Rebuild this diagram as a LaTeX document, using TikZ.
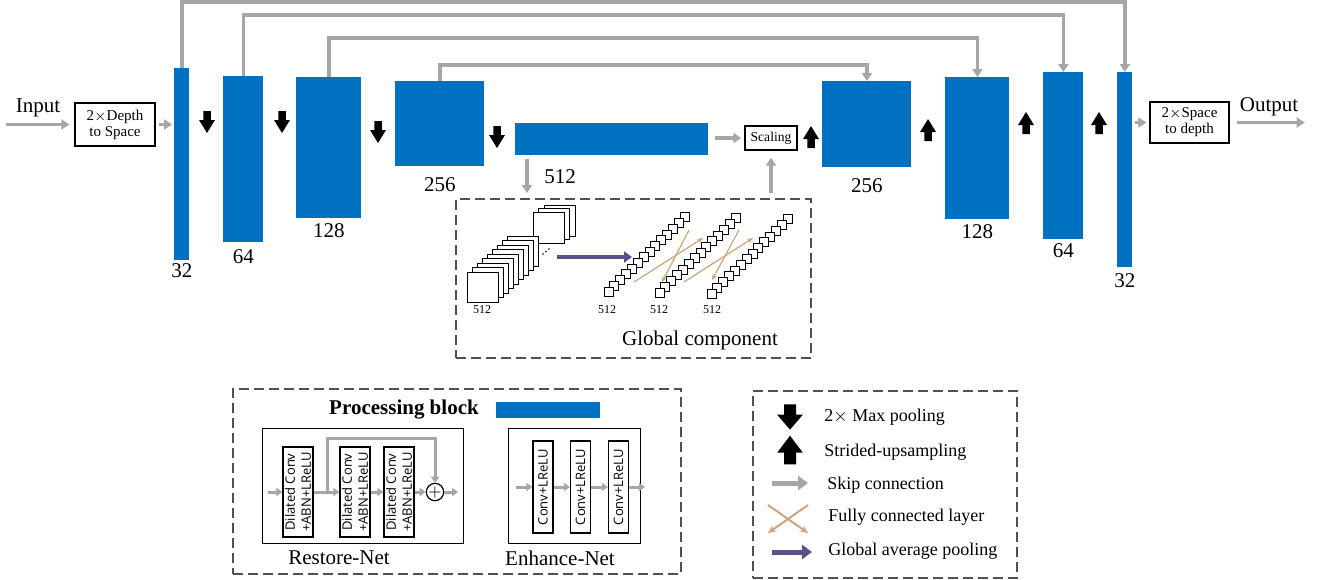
\documentclass[tikz,border=0pt]{standalone}
\usepackage{fontspec}
\setmainfont{Liberation Serif}
\setsansfont{Open Sans}
\usetikzlibrary{arrows.meta, positioning, calc}
\definecolor{blockblue}{RGB}{0,112,192}
\definecolor{skipgray}{RGB}{166,166,166}
\definecolor{fctan}{RGB}{205,165,125}
\definecolor{gapurple}{RGB}{96,78,140}
\definecolor{dashgray}{RGB}{80,80,80}

\begin{document}
\begin{tikzpicture}[x=0.5pt, y=-0.5pt,
    blk/.style 2 args={fill=blockblue, inner sep=0pt, minimum width=#1*0.5pt, minimum height=#2*0.5pt, anchor=north west},
    num/.style={font=\fontsize{10.5}{12}\selectfont, inner sep=0pt},
    tbox/.style={draw, line width=0.7pt, inner sep=0pt, align=center, font=\fontsize{7.5}{8}\selectfont},
    skip/.style={draw=skipgray, line width=1.8pt, -{Triangle[length=4pt, width=5pt]}},
    parr/.style={draw=skipgray, line width=1.5pt, -{Triangle[length=3pt, width=4pt]}},
    fc/.style={draw=fctan, line width=0.6pt, -{Stealth[length=3pt, width=2.5pt]}},
    gap/.style={draw=gapurple, line width=2pt, -{Triangle[length=4pt, width=5.5pt]}},
    dbox/.style={draw=dashgray, line width=0.75pt, dash pattern=on 5pt off 2.5pt, inner sep=0pt, anchor=north west},
    sq/.style={draw, fill=white, line width=0.5pt},
    pooldown/.pic={\fill (-3.75,-11) -- (3.75,-11) -- (3.75,-2) -- (8,-2) -- (0,11) -- (-8,-2) -- (-3.75,-2) -- cycle;},
    poolup/.pic={\fill (-3.75,11) -- (3.75,11) -- (3.75,2) -- (8,2) -- (0,-11) -- (-8,2) -- (-3.75,2) -- cycle;},
    layer/.style={draw, line width=0.6pt, rotate=90, align=center, inner sep=0pt, font=\sffamily\fontsize{6.5}{8}\selectfont},
    legtxt/.style={anchor=west, font=\fontsize{9}{10}\selectfont, inner sep=0pt}]
  \useasboundingbox (0,0) rectangle (1320,579);

  % Encoder
  \node[blk={15}{192}] (b32l) at (174,68) {};
  \node[blk={40}{166}] (b64l) at (223,76) {};
  \node[blk={65}{141}] (b128l) at (296,77) {};
  \node[blk={89}{85}] (b256l) at (395,81) {};
  \node[blk={193}{32}] (b512) at (515,123) {};
  % Decoder
  \node[blk={89}{86}] (b256r) at (822,81) {};
  \node[blk={64}{142}] (b128r) at (945,77) {};
  \node[blk={40}{167}] (b64r) at (1043,72) {};
  \node[blk={15}{195}] (b32r) at (1117,72) {};

  % Channel numbers
  \node[num, below=1pt of b32l] (n32l) {32};
  \node[num, below=3pt of b64l] (n64l) {64};
  \node[num, below=2pt of b128l] (n128l) {128};
  \node[num, below=5pt of b256l] (n256l) {256};
  \node[num, anchor=north] (n512) at ($(b512.south west)+(45,13)$) {512};
  \node[num, below=5pt of b256r] (n256r) {256};
  \node[num, below=2pt of b128r] (n128r) {128};
  \node[num, below=1.5pt of b64r] (n64r) {64};
  \node[num, below=2.5pt of b32r] (n32r) {32};

  % Input and output
  \node[tbox, minimum width=40pt, minimum height=21.5pt] (d2s) at (115,124.5) {2$\times$Depth\\to Space};
  \node[tbox, minimum width=39.5pt, minimum height=20.5pt] (s2d) at (1189.5,122.5) {2$\times$Space\\to depth};
  \node[tbox, minimum width=26pt, minimum height=12pt, font=\fontsize{6.8}{8}\selectfont] (scl) at (771,138) {Scaling};
  \node[num] (inlbl) at (38,108) {Input};
  \node[num] (outlbl) at (1269,107) {Output};
  \coordinate (inS) at ($(d2s.west)+(-68,0)$);
  \coordinate (outE) at ($(s2d.east)+(75,0)$);
  \draw[skip, shorten >=2.5pt] (inS) -- (d2s.west);
  \draw[skip, shorten <=1.5pt, shorten >=1pt] (d2s.east) -- (d2s.east -| b32l.west);
  \draw[skip, shorten <=1pt, shorten >=1.5pt] (b32r.east |- s2d.west) -- (s2d.west);
  \draw[skip, shorten <=3.5pt] (s2d.east) -- (outE);
  \draw[skip, shorten <=3pt, shorten >=1.5pt] (b512.east |- scl.west) -- (scl.west);

  % Pooling and upsampling arrows
  \pic (p1) at (207,122) {pooldown};
  \pic (p2) at (282,122) {pooldown};
  \pic (p3) at (378,132) {pooldown};
  \pic (p4) at (497,137) {pooldown};
  \pic (u1) at (811,137) {poolup};
  \pic (u2) at (928,130) {poolup};
  \pic (u3) at (1026,123) {poolup};
  \pic (u4) at (1099,123) {poolup};

  % Skip connections
  \draw[skip] (b32l.north) -- ++(0,-66) -| (b32r.north);
  \draw[skip] (b64l.north) -- ++(0,-61) -| (b64r.north);
  \draw[skip] (b128l.north) -- ++(0,-39) -| (b128r.north);
  \draw[skip] (b256l.north) -- ++(0,-16) -| (b256r.north);

  % Global component
  \node[dbox, minimum width=355*0.5pt, minimum height=159*0.5pt] (glob) at (455,198) {};
  \draw[skip, shorten <=1.5pt, shorten >=2.5pt] ([xshift=6pt]b512.south west) -- ([xshift=6pt]b512.south west |- glob.north);
  \draw[skip, shorten <=2.5pt, shorten >=3.5pt] (scl.south |- glob.north) -- (scl.south);
  \foreach \k in {2,1,0}
    \draw[sq] (533+5.5*\k, 212-3.5*\k) rectangle ++(31,31);
  \foreach \k in {8,...,0}
    \draw[sq] (467+5*\k, 272-4.5*\k) rectangle ++(31,30);
  \foreach \k in {0,1,2}
    \fill (543+3*\k, 254-2.5*\k) circle (0.9);
  \node[num, font=\fontsize{6}{7}\selectfont] (g512a) at (482,310) {512};
  \draw[gap] (557,257) -- (632,257);
  \foreach \cx/\cy in {604/287, 655/288, 707/289}
    \foreach \k in {13,...,0}
      \draw[sq, line width=0.45pt] (\cx+5.85*\k, \cy-5.7*\k) rectangle ++(9,9);
  \draw[fc] (634,282) -- (703,238);
  \draw[fc] (689,230) -- (662,282);
  \draw[fc] (684,282) -- (753,238);
  \draw[fc] (739,230) -- (712,280);
  \node[num, font=\fontsize{6}{7}\selectfont] (g512b) at (607,310) {512};
  \node[num, font=\fontsize{6}{7}\selectfont] (g512c) at (659,310) {512};
  \node[num, font=\fontsize{6}{7}\selectfont] (g512d) at (712,310) {512};
  \node[num] (gtxt) at (700,340) {Global component};

  % Processing block
  \node[dbox, minimum width=448*0.5pt, minimum height=185*0.5pt] (pbox) at (232,388) {};
  \node[num, font=\bfseries\fontsize{10.5}{12}\selectfont] (ptxt) at (404,410) {Processing block};
  \node[blk={104}{16}] (pbar) at (496,402) {};
  % Restore-Net
  \node[draw, line width=0.7pt, inner sep=0pt, anchor=north west, minimum width=201*0.5pt, minimum height=115*0.5pt] (rbox) at (262,428) {};
  \node[layer, minimum width=45pt, minimum height=15pt] (r1) at (298,492) {Dilated Conv\\+ABN+LReLU};
  \node[layer, minimum width=45pt, minimum height=15pt] (r2) at (355,492) {Dilated Conv\\+ABN+LReLU};
  \node[layer, minimum width=45pt, minimum height=15pt] (r3) at (399,492) {Dilated Conv\\+ABN+LReLU};
  \node[draw, circle, line width=0.6pt, inner sep=0pt, minimum size=7pt, font=\fontsize{8}{8}\selectfont] (plus) at (435,492) {$+$};
  \coordinate (rin) at (268,492);
  \coordinate (rout) at (458,492);
  \draw[parr] (rin) -- (r1.north);
  \draw[parr] (r1.south) -- (r2.north);
  \draw[parr] ([xshift=7pt]r1.south) -- ++(0,-54) -| (plus.north);
  \draw[parr] (r2.south) -- (r3.north);
  \draw[parr] (r3.south) -- (plus.west);
  \draw[parr] (plus.east) -- (rout);
  \node[num] (rtxt) at (339,558) {Restore-Net};
  % Enhance-Net
  \node[draw, line width=0.7pt, inner sep=0pt, anchor=north west, minimum width=132*0.5pt, minimum height=115*0.5pt] (ebox) at (508,428) {};
  \node[layer, minimum width=46pt, minimum height=10pt] (e1) at (543,487) {Conv+LReLU};
  \node[layer, minimum width=46pt, minimum height=10pt] (e2) at (580.5,487) {Conv+LReLU};
  \node[layer, minimum width=46pt, minimum height=10pt] (e3) at (618.5,487) {Conv+LReLU};
  \coordinate (ein) at (516,487);
  \coordinate (eout) at (645,487);
  \draw[parr] (ein) -- (e1.north);
  \draw[parr] (e1.south) -- (e2.north);
  \draw[parr] (e2.south) -- (e3.north);
  \draw[parr] (e3.south) -- (eout);
  \node[num] (etxt) at (560,558) {Enhance-Net};

  % Legend
  \node[dbox, minimum width=264*0.5pt, minimum height=187*0.5pt] (legend) at (752,390) {};
  \pic[xscale=1.6, yscale=1.15] (lpool) at (790,417) {pooldown};
  \node[legtxt] (tpool) at (824,417) {2$\times$ Max pooling};
  \pic[xscale=1.6, yscale=1.3] (lup) at (790,450) {poolup};
  \node[legtxt] (tup) at (824,452) {Strided-upsampling};
  \coordinate (lskipA) at (772,483);
  \coordinate (lskipB) at (808,483);
  \draw[skip, line width=2.5pt, -{Triangle[length=5pt, width=7pt]}] (lskipA) -- (lskipB);
  \node[legtxt] (tskip) at (827,485) {Skip connection};
  \draw[fc, line width=1pt, -{Stealth[length=4pt, width=3.5pt]}] (768,505) -- (808,533);
  \draw[fc, line width=1pt, -{Stealth[length=4pt, width=3.5pt]}] (808,505) -- (768,533);
  \node[legtxt] (tfc) at (828,517) {Fully connected layer};
  \coordinate (lgapA) at (772,552);
  \coordinate (lgapB) at (812,552);
  \draw[gap, line width=2.5pt, -{Triangle[length=5pt, width=7pt]}] (lgapA) -- (lgapB);
  \node[legtxt] (tgap) at (828,551) {Global average pooling};
\end{tikzpicture}
\end{document}
